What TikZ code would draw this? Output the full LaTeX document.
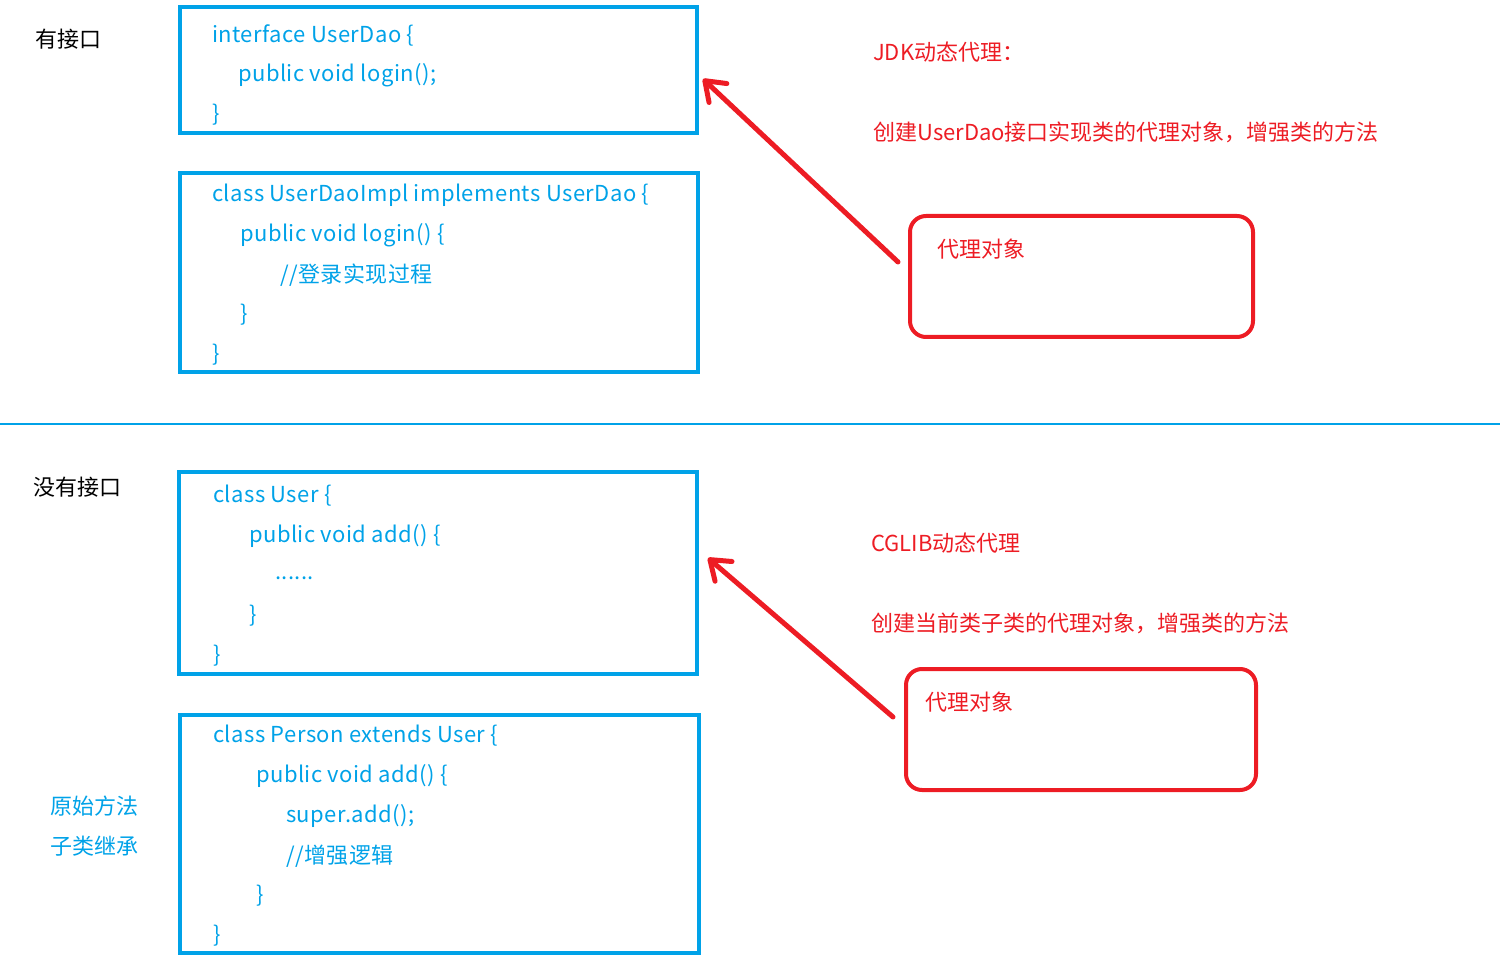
\documentclass[tikz,border=0pt]{standalone}
\usepackage{fontspec}
\setmainfont{Noto Sans CJK SC}
\usetikzlibrary{arrows.meta}
\definecolor{pblue}{HTML}{00A2E8}
\definecolor{pred}{HTML}{ED1C24}
\tikzset{
  codebox/.style={draw=pblue, line width=4pt},
  proxybox/.style={draw=pred, line width=4pt, rounded corners=16pt},
  code/.style={anchor=west, inner sep=0pt, yshift=-2pt, text=pblue, font=\fontsize{22}{26}\selectfont\addfontfeature{LetterSpace=2}},
  redtxt/.style={anchor=west, inner sep=0pt, yshift=-1pt, text=pred, font=\fontsize{22}{26}\selectfont},
  blacktxt/.style={anchor=west, inner sep=0pt, yshift=-1pt, text=black, font=\fontsize{22}{26}\selectfont},
  bluetxt/.style={anchor=west, inner sep=0pt, yshift=-1pt, text=pblue, font=\fontsize{22}{26}\selectfont},
  redarrow/.style={draw=pred, line width=5pt, line cap=round, -{Straight Barb[length=18pt,width=26pt,line cap=round,line join=round]}},
}
\begin{document}
\begin{tikzpicture}[x=1pt,y=-1pt]
\useasboundingbox (0,0) rectangle (1500,965);
% boxes
\draw[codebox] (180,7) rectangle (697,133);
\draw[codebox] (180,173) rectangle (698,372);
\draw[draw=pblue, line width=2.5pt] (0,424) -- (1500,424);
\draw[codebox] (179,472) rectangle (697,674);
\draw[codebox] (180,715) rectangle (699,953);
% left labels
\node[blacktxt] (l1) at (35,38) {有接口};
\node[blacktxt] (l2) at (33,486) {没有接口};
\node[bluetxt] (l3) at (50,805) {原始方法};
\node[bluetxt] (l4) at (50,845) {子类继承};
% box1 code
\node[code] (c11) at (212,33) {interface UserDao \{};
\node[code] (c12) at (238,73) {public void login();};
\node[code] (c13) at (212,113) {\}};
% box2 code
\node[code] (c21) at (212,193) {class UserDaoImpl implements UserDao \{};
\node[code] (c22) at (240,233) {public void login() \{};
\node[code] (c23) at (280,273) {//登录实现过程};
\node[code] (c24) at (240,313) {\}};
\node[code] (c25) at (212,353) {\}};
% box3 code
\node[code] (c31) at (213,494) {class User \{};
\node[code] (c32) at (249,534) {public void add() \{};
\node[code] (c33) at (275,576) {......};
\node[code] (c34) at (249,614) {\}};
\node[code] (c35) at (213,654) {\}};
% box4 code
\node[code] (c41) at (213,734) {class Person extends User \{};
\node[code] (c42) at (256,774) {public void add() \{};
\node[code] (c43) at (286,814) {super.add();};
\node[code] (c44) at (286,854) {//增强逻辑};
\node[code] (c45) at (256,894) {\}};
\node[code] (c46) at (213,934) {\}};
% red texts
\node[redtxt] (r1) at (873,51) {JDK动态代理：};
\node[redtxt] (r2) at (873,131) {创建UserDao接口实现类的代理对象，增强类的方法};
\node[redtxt] (r3) at (871,542) {CGLIB动态代理};
\node[redtxt] (r4) at (871,622) {创建当前类子类的代理对象，增强类的方法};
% proxy boxes
\draw[proxybox] (910,216) rectangle (1253,337);
\node[redtxt] (p1) at (937,248) {代理对象};
\draw[proxybox] (906,669) rectangle (1256,790);
\node[redtxt] (p2) at (925,701) {代理对象};
% arrows
\coordinate (a1s) at (898,262);
\coordinate (a1e) at (703,79);
\coordinate (a2s) at (893,717);
\coordinate (a2e) at (708,558);
\draw[redarrow] (a1s) -- (a1e);
\draw[redarrow] (a2s) -- (a2e);
\end{tikzpicture}
\end{document}
